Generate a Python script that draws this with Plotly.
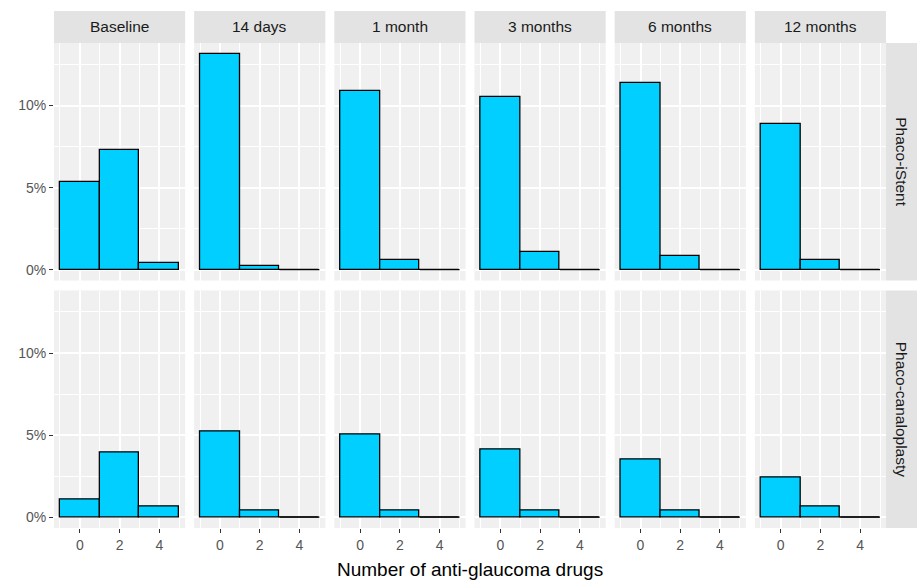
import plotly.graph_objects as go
from plotly.subplots import make_subplots

# ---------------- data ----------------
timepoints = ["Baseline", "14 days", "1 month", "3 months", "6 months", "12 months"]
groups = ["Phaco-iStent", "Phaco-canaloplasty"]
bin_centers = [0, 2, 4]
bin_width = 2
x_tick_vals = [0, 2, 4]
y_tick_vals = [0, 5, 10]
y_tick_text = ["0%", "5%", "10%"]

# percentage of eyes per bin (0, 2, 4 drugs) for each time point
istent_pct = [
    [5.37, 7.30, 0.43],   # Baseline
    [13.15, 0.20, 0.0],   # 14 days
    [10.90, 0.61, 0.0],   # 1 month
    [10.50, 1.10, 0.0],   # 3 months
    [11.36, 0.83, 0.0],   # 6 months
    [8.90, 0.61, 0.0],    # 12 months
]
canaloplasty_pct = [
    [1.07, 3.92, 0.65],   # Baseline
    [5.25, 0.40, 0.0],    # 14 days
    [5.01, 0.40, 0.0],    # 1 month
    [4.14, 0.40, 0.0],    # 3 months
    [3.50, 0.40, 0.0],    # 6 months
    [2.42, 0.65, 0.0],    # 12 months
]
data_by_group = [istent_pct, canaloplasty_pct]

# ---------------- style ----------------
FONT = "Liberation Sans, Arial, sans-serif"
PANEL_BG = "#F0F0F0"
STRIP_BG = "#E3E3E3"
FILL = "#00CFFF"
W, H = 920, 581
ML, MR, MT, MB = 54, 34, 43, 53
PW, PH = W - ML - MR, H - MT - MB

ncol, nrow = len(timepoints), len(groups)
hgap_px, vgap_px = 9, 10

fig = make_subplots(rows=nrow, cols=ncol,
                    horizontal_spacing=hgap_px / PW,
                    vertical_spacing=vgap_px / PH)

ymax = max(max(v) for g in data_by_group for v in g)
ypad = 0.05 * ymax
y_range = [-ypad, ymax + ypad]
xmin = min(bin_centers) - bin_width / 2
xmax = max(bin_centers) + bin_width / 2
xpad = 0.05 * (xmax - xmin)
x_range = [xmin - xpad, xmax + xpad]

for r, group_vals in enumerate(data_by_group, start=1):
    for c, vals in enumerate(group_vals, start=1):
        fig.add_trace(go.Bar(
            x=bin_centers, y=vals, width=bin_width,
            marker=dict(color=FILL, line=dict(color="black", width=1.3)),
            showlegend=False, hoverinfo="x+y"),
            row=r, col=c)
        # zero-height bins are drawn by ggplot as a flat outline at 0
        zx, zy = [], []
        for xc, v in zip(bin_centers, vals):
            if v == 0:
                zx += [xc - bin_width / 2, xc + bin_width / 2, None]
                zy += [0, 0, None]
        if zx:
            fig.add_trace(go.Scatter(x=zx, y=zy, mode="lines",
                                     line=dict(color="black", width=1.3),
                                     showlegend=False, hoverinfo="skip"),
                          row=r, col=c)

        bottom = (r == nrow)
        left = (c == 1)
        fig.update_xaxes(
            range=x_range, tickvals=x_tick_vals,
            ticktext=[str(v) for v in x_tick_vals],
            showticklabels=bottom, ticks="outside" if bottom else "",
            ticklen=4, tickwidth=1.1, tickcolor="#333333",
            tickfont=dict(family=FONT, size=14, color="#555555"),
            showgrid=True, gridcolor="white", gridwidth=1.6,
            minor=dict(tickvals=[xmin, 1, 3, xmax], showgrid=True,
                       gridcolor="white", gridwidth=0.8, ticks=""),
            zeroline=False, showline=False, fixedrange=True,
            row=r, col=c)
        fig.update_yaxes(
            range=y_range, tickvals=y_tick_vals, ticktext=y_tick_text,
            showticklabels=left, ticks="outside" if left else "",
            ticklen=4, tickwidth=1.1, tickcolor="#333333",
            tickfont=dict(family=FONT, size=14, color="#555555"),
            showgrid=True, gridcolor="white", gridwidth=1.6,
            minor=dict(tickvals=[2.5, 7.5, 12.5], showgrid=True,
                       gridcolor="white", gridwidth=0.8, ticks=""),
            zeroline=False, showline=False, fixedrange=True,
            row=r, col=c)

# panel strips
shapes, annotations = [], []
strip_h = 32 / PH
strip_w = 31 / PW
for c in range(1, ncol + 1):
    xa = fig.layout["xaxis" if c == 1 else f"xaxis{c}"]
    d = xa.domain
    shapes.append(dict(type="rect", xref="paper", yref="paper",
                       x0=d[0], x1=d[1], y0=1, y1=1 + strip_h,
                       fillcolor=STRIP_BG, line=dict(width=0), layer="below"))
    annotations.append(dict(text=timepoints[c - 1], xref="paper", yref="paper",
                            x=(d[0] + d[1]) / 2, y=1 + strip_h / 2,
                            showarrow=False, xanchor="center", yanchor="middle",
                            font=dict(family=FONT, size=15.5, color="#1A1A1A")))
for r in range(1, nrow + 1):
    idx = (r - 1) * ncol + 1
    ya = fig.layout["yaxis" if idx == 1 else f"yaxis{idx}"]
    d = ya.domain
    shapes.append(dict(type="rect", xref="paper", yref="paper",
                       x0=1, x1=1 + strip_w, y0=d[0], y1=d[1],
                       fillcolor=STRIP_BG, line=dict(width=0), layer="below"))
    annotations.append(dict(text=groups[r - 1], xref="paper", yref="paper",
                            x=1 + strip_w / 2, y=(d[0] + d[1]) / 2,
                            textangle=90, showarrow=False,
                            xanchor="center", yanchor="middle",
                            font=dict(family=FONT, size=15.5, color="#1A1A1A")))

annotations.append(dict(text="Number of anti-glaucoma drugs", xref="paper",
                        yref="paper", x=0.5, y=-41 / PH, showarrow=False,
                        xanchor="center", yanchor="middle",
                        font=dict(family=FONT, size=19, color="black")))

fig.update_layout(
    width=W, height=H,
    margin=dict(l=ML, r=MR, t=MT, b=MB, pad=0),
    paper_bgcolor="white", plot_bgcolor=PANEL_BG,
    shapes=shapes, annotations=annotations,
    bargap=0, showlegend=False,
    font=dict(family=FONT),
)

fig.write_html("out.html",
               config={"displayModeBar": False},
               post_script="document.body.style.margin='0px';"
                           "document.body.style.overflow='hidden';")
